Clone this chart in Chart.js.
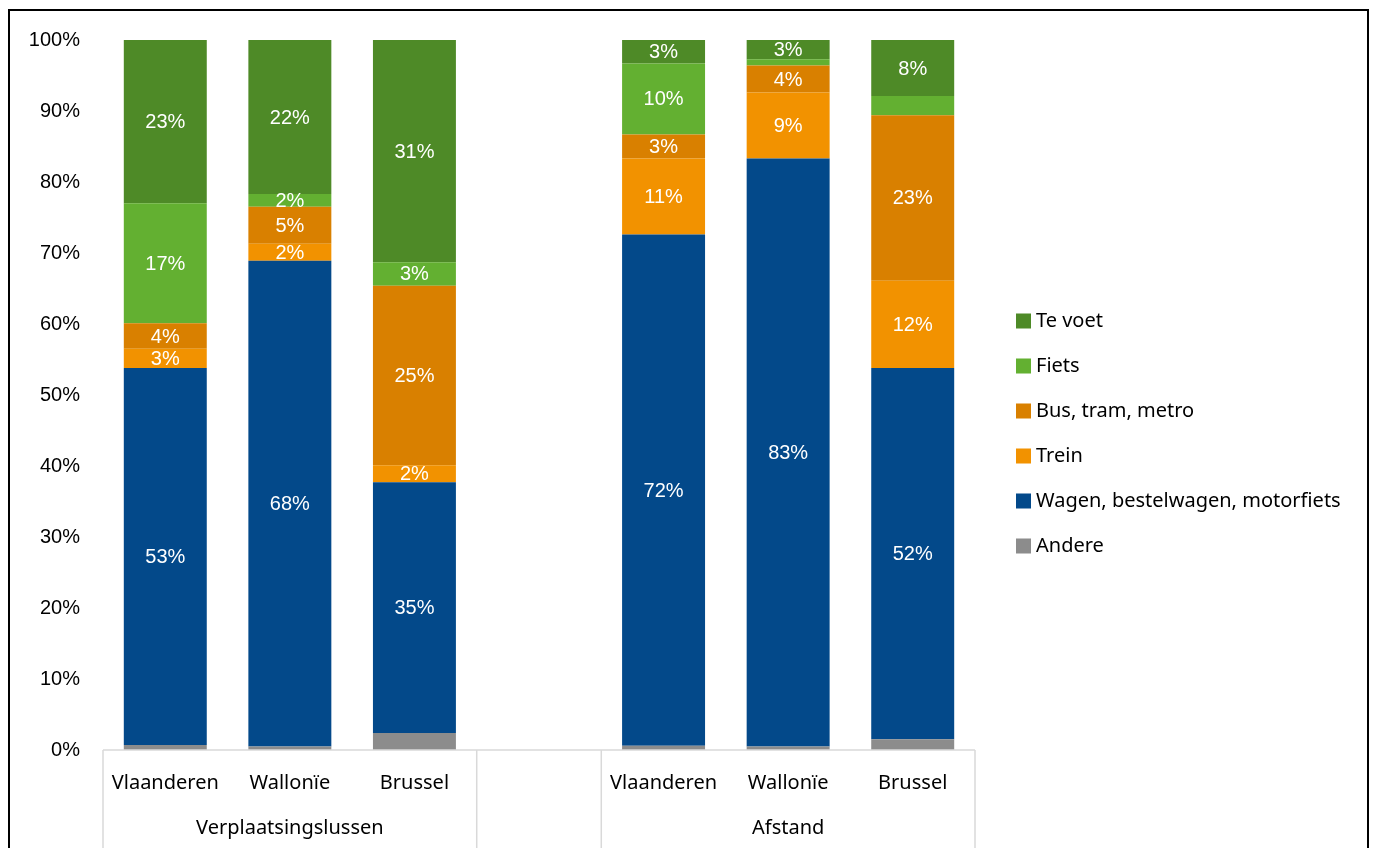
<!DOCTYPE html>
<html>
<head>
<meta charset="utf-8">
<script src="https://cdn.jsdelivr.net/npm/chart.js@4.4.1/dist/chart.umd.min.js"></script>
<style>
  html, body { margin: 0; padding: 0; background: #fff; }
  #wrap { width: 1375px; height: 848px; position: relative; }
</style>
</head>
<body>
<div id="wrap"><canvas id="chart" width="1375" height="848"></canvas></div>
<script>
// categories (index 3 is the empty gap between the two groups)
const categories = ['Vlaanderen', 'Wallonïe', 'Brussel', '', 'Vlaanderen', 'Wallonïe', 'Brussel'];
const groups = [
    { label: 'Verplaatsingslussen', from: 0, to: 2 },
    { label: '', from: 3, to: 3 },
    { label: 'Afstand', from: 4, to: 6 }
];
const yTicks = [0, 10, 20, 30, 40, 50, 60, 70, 80, 90, 100];

// shares in %, bottom of the stack first
const andere = [0.7, 0.5, 2.4, null, 0.6, 0.5, 1.5];
const wagen  = [53.1, 68.4, 35.3, null, 72.0, 82.8, 52.3];
const trein  = [2.7, 2.4, 2.4, null, 10.7, 9.3, 12.3];
const bus    = [3.6, 5.2, 25.3, null, 3.4, 3.8, 23.3];
const fiets  = [16.9, 1.8, 3.3, null, 10.0, 0.9, 2.7];
const teVoet = [23.0, 21.7, 31.3, null, 3.3, 2.8, 7.9];

// labels that are not shown in the original
const hiddenLabels = { 'Andere': [0, 1, 2, 4, 5, 6], 'Fiets': [5, 6] };

const FONT = '"Noto Sans", sans-serif';

const series = [
    { label: 'Andere', data: andere, color: '#8C8C8C' },
    { label: 'Wagen, bestelwagen, motorfiets', data: wagen, color: '#03498A' },
    { label: 'Trein', data: trein, color: '#F29200' },
    { label: 'Bus, tram, metro', data: bus, color: '#D98000' },
    { label: 'Fiets', data: fiets, color: '#63B031' },
    { label: 'Te voet', data: teVoet, color: '#4E8A27' }
];

const framePlugin = {
    id: 'frame',
    beforeDraw(chart) {
        const ctx = chart.ctx;
        ctx.save();
        ctx.strokeStyle = '#000';
        ctx.lineWidth = 2;
        ctx.beginPath();
        ctx.moveTo(9, chart.height);
        ctx.lineTo(9, 10);
        ctx.lineTo(1368, 10);
        ctx.lineTo(1368, chart.height);
        ctx.stroke();
        ctx.restore();
    }
};

// axis line, category separators and group labels under the x axis
const groupAxisPlugin = {
    id: 'groupAxis',
    afterDraw(chart) {
        const ctx = chart.ctx;
        const x = chart.scales.x;
        const area = chart.chartArea;
        const half = (x.getPixelForValue(1) - x.getPixelForValue(0)) / 2;
        ctx.save();
        ctx.strokeStyle = '#D9D9D9';
        ctx.lineWidth = 1.5;
        ctx.beginPath();
        ctx.moveTo(area.left, area.bottom);
        ctx.lineTo(area.right, area.bottom);
        groups.forEach(g => {
            const l = x.getPixelForValue(g.from) - half;
            const r = x.getPixelForValue(g.to) + half;
            [l, r].forEach(px => {
                ctx.moveTo(px, area.bottom);
                ctx.lineTo(px, chart.height);
            });
        });
        ctx.stroke();
        ctx.fillStyle = '#000';
        ctx.font = '20px ' + FONT;
        ctx.textAlign = 'center';
        ctx.textBaseline = 'middle';
        groups.forEach(g => {
            if (!g.label) return;
            const cx = (x.getPixelForValue(g.from) + x.getPixelForValue(g.to)) / 2;
            ctx.fillText(g.label, cx, area.bottom + 78);
        });
        ctx.restore();
    }
};

// white percentage labels in the middle of each segment
const segmentLabelPlugin = {
    id: 'segmentLabels',
    afterDatasetsDraw(chart) {
        const ctx = chart.ctx;
        ctx.save();
        ctx.fillStyle = '#fff';
        ctx.font = '20px "Liberation Sans", Arial, sans-serif';
        ctx.textAlign = 'center';
        ctx.textBaseline = 'middle';
        chart.data.datasets.forEach((ds, di) => {
            const meta = chart.getDatasetMeta(di);
            const hidden = hiddenLabels[ds.label] || [];
            meta.data.forEach((bar, i) => {
                const v = ds.data[i];
                if (v == null || hidden.includes(i)) return;
                ctx.fillText(Math.round(v) + '%', bar.x, (bar.y + bar.base) / 2 + 1);
            });
        });
        ctx.restore();
    }
};

// legend on the right, top item is the top of the stack
const legendPlugin = {
    id: 'sideLegend',
    afterDraw(chart) {
        const ctx = chart.ctx;
        const items = chart.data.datasets.slice().reverse();
        const left = chart.chartArea.right + 41;
        const step = 45;
        const top = 321;
        ctx.save();
        ctx.font = '20px ' + FONT;
        ctx.textBaseline = 'middle';
        ctx.textAlign = 'left';
        items.forEach((ds, i) => {
            const cy = top + i * step;
            ctx.fillStyle = ds.backgroundColor;
            ctx.fillRect(left, cy - 7.5, 15, 15);
            ctx.fillStyle = '#000';
            ctx.fillText(ds.label, left + 20, cy);
        });
        ctx.restore();
    }
};

new Chart(document.getElementById('chart'), {
    type: 'bar',
    data: {
        labels: categories,
        datasets: series.map(s => ({
            label: s.label,
            data: s.data,
            backgroundColor: s.color,
            borderWidth: 0,
            barPercentage: 0.666,
            categoryPercentage: 1
        }))
    },
    options: {
        responsive: false,
        animation: false,
        layout: { padding: { top: 40, right: 400, bottom: 0, left: 0 } },
        plugins: {
            legend: { display: false },
            tooltip: { enabled: false }
        },
        scales: {
            x: {
                stacked: true,
                grid: { display: false, drawTicks: false },
                border: { display: false },
                ticks: {
                    color: '#000',
                    font: { family: FONT, size: 20 },
                    padding: 21,
                    maxRotation: 0,
                    autoSkip: false
                },
                afterFit(scale) { scale.height = 98; }
            },
            y: {
                stacked: true,
                min: 0,
                max: 100,
                grid: { display: false, drawTicks: false },
                border: { display: false },
                afterBuildTicks(scale) { scale.ticks = yTicks.map(v => ({ value: v })); },
                ticks: {
                    color: '#000',
                    font: { family: '"Liberation Sans", Arial, sans-serif', size: 20 },
                    padding: 23,
                    callback: v => v + '%'
                },
                afterFit(scale) { scale.width = 103; }
            }
        }
    },
    plugins: [framePlugin, groupAxisPlugin, segmentLabelPlugin, legendPlugin]
});
</script>
</body>
</html>
